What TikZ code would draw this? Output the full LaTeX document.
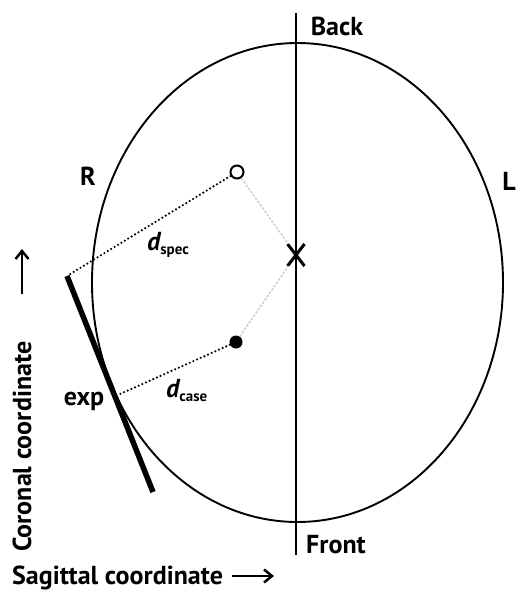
\documentclass[tikz,border=0pt]{standalone}
\usepackage{fontspec}
\setmainfont{PT Sans}
\usetikzlibrary{arrows.meta,calc,shapes.misc}
\newcommand{\distlbl}[2]{{\itshape #1}\raisebox{-4pt}{\fontsize{15}{16}\selectfont #2}}

\begin{document}
\begin{tikzpicture}[x=1pt, y=-1pt, >={Straight Barb[length=8pt,width=13pt]},
    every node/.style={font=\fontsize{26}{30}\selectfont\bfseries, inner sep=0pt},
    ptopen/.style={circle, draw, line width=2pt, fill=white, minimum size=13pt},
    ptfull/.style={circle, fill, minimum size=13pt},
    distline/.style={line width=2.4pt, line cap=round, dash pattern=on 0pt off 4pt},
    guide/.style={gray!40, line width=1.4pt, dash pattern=on 2.5pt off 1.5pt},
    axisarrow/.style={->, line width=2.5pt}]
    \useasboundingbox (0,0) rectangle (516,592);
    % head outline and midline
    \draw[line width=1.9pt] (297.5,282.5) ellipse [x radius=205.5pt, y radius=239.5pt];
    \coordinate (mtop) at (296,13);
    \coordinate (mbot) at (296,555);
    \draw[line width=1.5pt] (mtop) -- (mbot);
    \node[anchor=base] (back) at (337,35) {Back};
    \node[anchor=base] (front) at (336,553) {Front};
    \node[anchor=base] (sideR) at (88,185) {R};
    \node[anchor=base] (sideL) at (509,190) {L};
    % sources and center
    \node[cross out, draw, line width=3pt, minimum width=14pt, minimum height=19pt] (cen) at (296,255) {};
    \node[ptopen] (spec) at (237,172) {};
    \node[ptfull] (case) at (236,342) {};
    \draw[guide] (spec) -- (cen);
    \draw[guide] (case) -- (cen);
    % exposure line
    \coordinate (etop) at (67,276);
    \coordinate (ebot) at (153,492);
    \draw[line width=5.5pt] (etop) -- (ebot);
    \coordinate (etouch) at ($(etop)!0.55!(ebot)+(4,0)$);
    \node[anchor=base] (exp) at (84,405) {exp};
    % distances
    \draw[distline] (spec) -- (etop);
    \draw[distline] (case) -- (etouch);
    \node[anchor=base west] (dspec) at (147,250) {\distlbl{d}{spec}};
    \node[anchor=base west] (dcase) at (166,397) {\distlbl{d}{case}};
    % axes
    \node[anchor=base west] (sag) at (12,584) {Sagittal coordinate};
    \coordinate (sagA) at (232,576);
    \coordinate (sagB) at (274,576);
    \draw[axisarrow] (sagA) -- (sagB);
    \node[anchor=base west, rotate=90] (cor) at (31,552) {Coronal coordinate};
    \coordinate (corA) at (22,294);
    \coordinate (corB) at (22,249);
    \draw[axisarrow] (corA) -- (corB);
\end{tikzpicture}
\end{document}
